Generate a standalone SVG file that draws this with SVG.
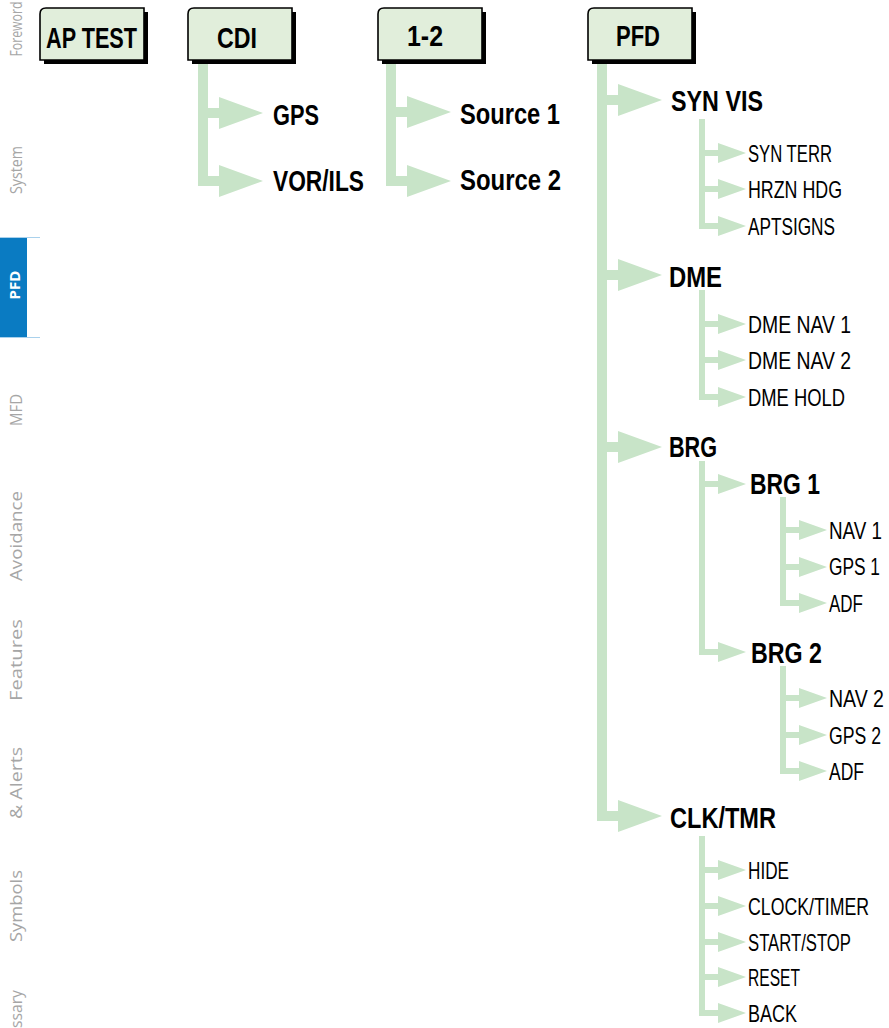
<svg xmlns="http://www.w3.org/2000/svg" xmlns:xlink="http://www.w3.org/1999/xlink" width="889" height="1028" viewBox="0 0 889 1028">
<style>
.bx{fill:#e1eedb;stroke:#000;stroke-width:1.6}
.sh{fill:#000}
.g{fill:#c8e4c8}
.b{font-family:'Liberation Sans',sans-serif;font-weight:700;font-size:29px;fill:#000}
.bb{font-family:'Liberation Sans',sans-serif;font-weight:700;font-size:30px;fill:#000;text-anchor:middle}
.r{font-family:'Liberation Sans',sans-serif;font-size:24px;fill:#000}
.side{font-family:'Open Sans','Noto Sans',sans-serif;font-size:17px;fill:#a6a6a6;text-anchor:middle}
</style>
<defs>
<path id="bigA" d="M0,-5H11V-16L55,0L11,16V5H0Z"/>
<path id="smA" d="M0,-3H13V-10L41,0L13,10V3H0Z"/>
</defs>
<g id="sidebar">
<text class="side" transform="translate(22,29) rotate(-90) scale(0.75,1)" textLength="73.3" lengthAdjust="spacingAndGlyphs">Foreword</text>
<text class="side" transform="translate(22,170) rotate(-90)" textLength="48" lengthAdjust="spacingAndGlyphs">System</text>
<rect x="0" y="238" width="27" height="99" fill="#0a7bc2"/>
<rect x="0" y="237" width="40" height="1" fill="#a9d1ec"/>
<rect x="0" y="337" width="40" height="1" fill="#a9d1ec"/>
<text transform="translate(20,285) rotate(-90)" style="font-family:'Open Sans','Noto Sans',sans-serif;font-weight:700;font-size:15px;fill:#fff;text-anchor:middle">PFD</text>
<text class="side" transform="translate(22,410) rotate(-90)" textLength="32" lengthAdjust="spacingAndGlyphs">MFD</text>
<text class="side" transform="translate(22,536) rotate(-90)" textLength="90" lengthAdjust="spacingAndGlyphs">Avoidance</text>
<text class="side" transform="translate(22,660) rotate(-90)" textLength="82" lengthAdjust="spacingAndGlyphs">Features</text>
<text class="side" transform="translate(22,783) rotate(-90)" textLength="72" lengthAdjust="spacingAndGlyphs">&amp; Alerts</text>
<text class="side" transform="translate(22,906) rotate(-90)" textLength="72" lengthAdjust="spacingAndGlyphs">Symbols</text>
<text class="side" transform="translate(22,1028) rotate(-90)" style="text-anchor:start" textLength="38" lengthAdjust="spacingAndGlyphs">ssary</text>
</g>
<g id="connectors" class="g">
<rect x="198" y="62" width="10" height="124"/>
<use xlink:href="#bigA" x="208" y="113"/>
<use xlink:href="#bigA" x="208" y="181"/>
<rect x="386" y="62" width="10" height="124"/>
<use xlink:href="#bigA" x="396" y="112"/>
<use xlink:href="#bigA" x="396" y="181"/>
<rect x="597" y="63" width="10" height="758"/>
<use xlink:href="#bigA" x="607" y="100"/>
<use xlink:href="#bigA" x="607" y="275"/>
<use xlink:href="#bigA" x="607" y="447"/>
<use xlink:href="#bigA" x="607" y="816"/>
<rect x="699" y="119" width="6" height="110"/>
<use xlink:href="#smA" x="705" y="153"/>
<use xlink:href="#smA" x="705" y="189"/>
<use xlink:href="#smA" x="705" y="226"/>
<rect x="699" y="290" width="6" height="110"/>
<use xlink:href="#smA" x="705" y="324"/>
<use xlink:href="#smA" x="705" y="360"/>
<use xlink:href="#smA" x="705" y="397"/>
<rect x="699" y="461" width="6" height="194"/>
<use xlink:href="#smA" x="705" y="484"/>
<use xlink:href="#smA" x="705" y="652"/>
<rect x="780" y="497" width="6" height="109"/>
<use xlink:href="#smA" x="786" y="530"/>
<use xlink:href="#smA" x="786" y="567"/>
<use xlink:href="#smA" x="786" y="603"/>
<rect x="780" y="666" width="6" height="108"/>
<use xlink:href="#smA" x="786" y="698"/>
<use xlink:href="#smA" x="786" y="735"/>
<use xlink:href="#smA" x="786" y="771"/>
<rect x="699" y="836" width="6" height="180"/>
<use xlink:href="#smA" x="705" y="870"/>
<use xlink:href="#smA" x="705" y="906"/>
<use xlink:href="#smA" x="705" y="942"/>
<use xlink:href="#smA" x="705" y="977"/>
<use xlink:href="#smA" x="705" y="1013"/>
</g>
<g id="n-aptest">
<rect class="sh" x="44" y="12" width="104" height="52"/>
<path class="bx" d="M46,8H144V60H40V14Q40,8 46,8Z"/>
<text class="bb" x="91.5" y="48" textLength="91" lengthAdjust="spacingAndGlyphs">AP TEST</text>
</g>
<g id="n-cdi">
<rect class="sh" x="192" y="12" width="104" height="52"/>
<path class="bx" d="M194,8H292V60H188V14Q188,8 194,8Z"/>
<text class="bb" x="237" y="48" textLength="40" lengthAdjust="spacingAndGlyphs">CDI</text>
</g>
<g id="n-12">
<rect class="sh" x="382" y="12" width="104" height="52"/>
<path class="bx" d="M384,8H482V60H378V14Q378,8 384,8Z"/>
<text class="bb" x="425" y="46" textLength="36" lengthAdjust="spacingAndGlyphs">1-2</text>
</g>
<g id="n-pfd">
<rect class="sh" x="592" y="12" width="104" height="52"/>
<path class="bx" d="M594,8H692V60H588V14Q588,8 594,8Z"/>
<text class="bb" x="638" y="46" textLength="44" lengthAdjust="spacingAndGlyphs">PFD</text>
</g>
<g id="n-gps"><text class="b" x="273" y="125" textLength="46" lengthAdjust="spacingAndGlyphs">GPS</text></g>
<g id="n-vorils"><text class="b" x="273" y="191" textLength="91" lengthAdjust="spacingAndGlyphs">VOR/ILS</text></g>
<g id="n-src1"><text class="b" x="460" y="124" textLength="100" lengthAdjust="spacingAndGlyphs">Source 1</text></g>
<g id="n-src2"><text class="b" x="460" y="190" textLength="101" lengthAdjust="spacingAndGlyphs">Source 2</text></g>
<g id="n-synvis"><text class="b" x="671" y="111" textLength="92" lengthAdjust="spacingAndGlyphs">SYN VIS</text></g>
<g id="n-synterr"><text class="r" x="748" y="162" textLength="84" lengthAdjust="spacingAndGlyphs">SYN TERR</text></g>
<g id="n-hrzn"><text class="r" x="748" y="198" textLength="94" lengthAdjust="spacingAndGlyphs">HRZN HDG</text></g>
<g id="n-apts"><text class="r" x="748" y="235" textLength="87" lengthAdjust="spacingAndGlyphs">APTSIGNS</text></g>
<g id="n-dme"><text class="b" x="669" y="287" textLength="53" lengthAdjust="spacingAndGlyphs">DME</text></g>
<g id="n-dme1"><text class="r" x="748" y="333" textLength="103" lengthAdjust="spacingAndGlyphs">DME NAV 1</text></g>
<g id="n-dme2"><text class="r" x="748" y="369" textLength="103" lengthAdjust="spacingAndGlyphs">DME NAV 2</text></g>
<g id="n-dmeh"><text class="r" x="748" y="406" textLength="97" lengthAdjust="spacingAndGlyphs">DME HOLD</text></g>
<g id="n-brg"><text class="b" x="669" y="457" textLength="48" lengthAdjust="spacingAndGlyphs">BRG</text></g>
<g id="n-brg1"><text class="b" x="750" y="494" textLength="70" lengthAdjust="spacingAndGlyphs">BRG 1</text></g>
<g id="n-nav1"><text class="r" transform="translate(829,539) scale(0.75,1)" textLength="70.7" lengthAdjust="spacingAndGlyphs">NAV 1</text></g>
<g id="n-gps1"><text class="r" transform="translate(829,575) scale(0.75,1)" textLength="68" lengthAdjust="spacingAndGlyphs">GPS 1</text></g>
<g id="n-adf1"><text class="r" transform="translate(829,612) scale(0.75,1)" textLength="45.3" lengthAdjust="spacingAndGlyphs">ADF</text></g>
<g id="n-brg2"><text class="b" x="751" y="663" textLength="71" lengthAdjust="spacingAndGlyphs">BRG 2</text></g>
<g id="n-nav2"><text class="r" transform="translate(829,707) scale(0.75,1)" textLength="73.3" lengthAdjust="spacingAndGlyphs">NAV 2</text></g>
<g id="n-gps2"><text class="r" transform="translate(829,744) scale(0.75,1)" textLength="69.3" lengthAdjust="spacingAndGlyphs">GPS 2</text></g>
<g id="n-adf2"><text class="r" transform="translate(829,780) scale(0.75,1)" textLength="46.7" lengthAdjust="spacingAndGlyphs">ADF</text></g>
<g id="n-clk"><text class="b" x="670" y="828" textLength="106" lengthAdjust="spacingAndGlyphs">CLK/TMR</text></g>
<g id="n-hide"><text class="r" x="748" y="879" textLength="41" lengthAdjust="spacingAndGlyphs">HIDE</text></g>
<g id="n-clock"><text class="r" transform="translate(748,915) scale(0.75,1)" textLength="161.3" lengthAdjust="spacingAndGlyphs">CLOCK/TIMER</text></g>
<g id="n-start"><text class="r" transform="translate(748,951) scale(0.75,1)" textLength="137.3" lengthAdjust="spacingAndGlyphs">START/STOP</text></g>
<g id="n-reset"><text class="r" x="748" y="986" textLength="52" lengthAdjust="spacingAndGlyphs">RESET</text></g>
<g id="n-back"><text class="r" x="748" y="1022" textLength="49" lengthAdjust="spacingAndGlyphs">BACK</text></g>
</svg>
